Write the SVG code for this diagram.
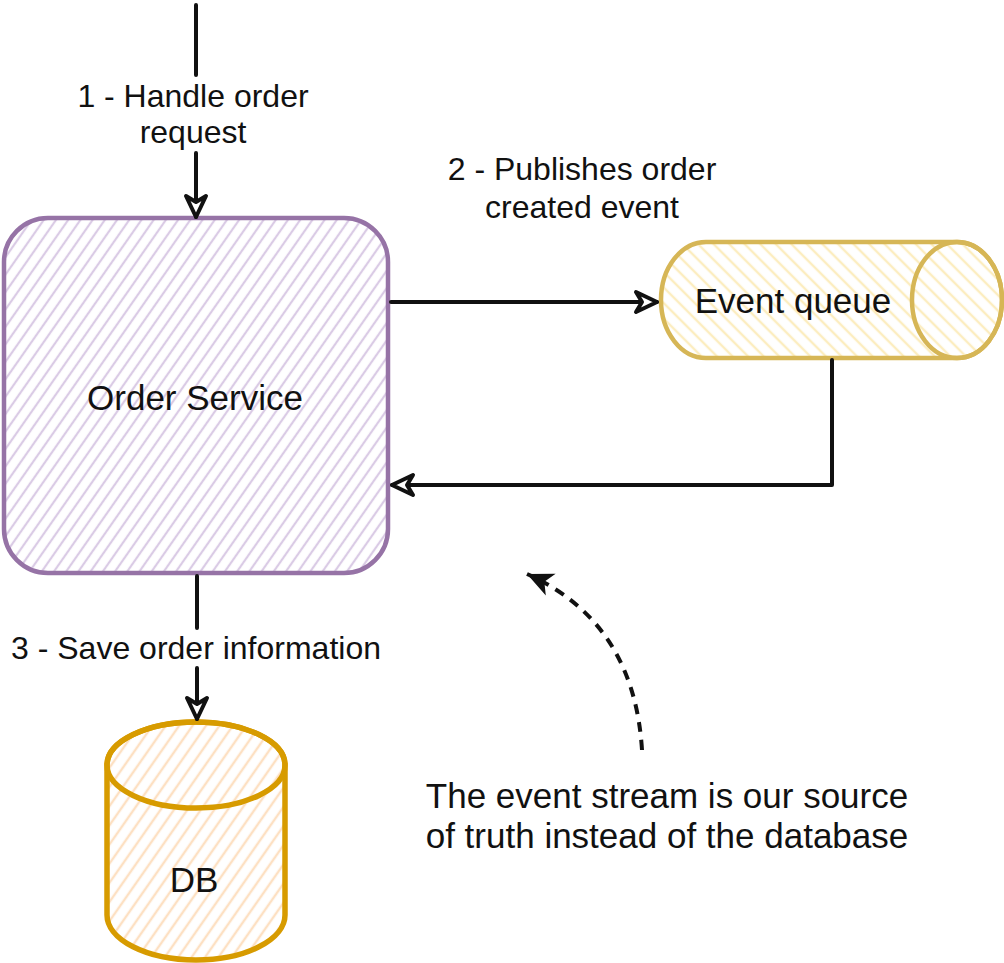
<svg xmlns="http://www.w3.org/2000/svg" width="1004" height="963" viewBox="0 0 1004 963">
<style>
.t{font-family:"Liberation Sans",Arial,sans-serif;fill:#111;text-anchor:middle}
.n{font-size:35px}
.e{font-size:32px}
.c{fill:none;stroke:#111;stroke-width:4;stroke-linecap:round;stroke-linejoin:round}
</style>
<defs>
<pattern id="hP" width="10" height="10" patternUnits="userSpaceOnUse" patternTransform="rotate(35)"><rect width="10" height="10" fill="#fff"/><line x1="2" y1="0" x2="2" y2="10" stroke="#dacbe5" stroke-width="2.2"/></pattern>
<pattern id="hY" width="11" height="11" patternUnits="userSpaceOnUse" patternTransform="rotate(-45)"><rect width="11" height="11" fill="#fff"/><line x1="2" y1="0" x2="2" y2="11" stroke="#fcedbf" stroke-width="2.4"/></pattern>
<pattern id="hO" width="11" height="11" patternUnits="userSpaceOnUse" patternTransform="rotate(35)"><rect width="11" height="11" fill="#fff"/><line x1="2" y1="0" x2="2" y2="11" stroke="#fde0c2" stroke-width="2.4"/></pattern>
<marker id="ao" viewBox="-26 -15 30 30" refX="0" refY="0" markerWidth="30" markerHeight="30" markerUnits="userSpaceOnUse" orient="auto">
<path d="M0,0 L-21,-10 L-15,0 L-21,10 Z" fill="#fff" stroke="#111" stroke-width="4" stroke-linejoin="round"/>
</marker>
<marker id="af" viewBox="-30 -16 34 32" refX="0" refY="0" markerWidth="34" markerHeight="32" markerUnits="userSpaceOnUse" orient="auto">
<path d="M0,0 L-26,-12 L-19,0 L-26,12 Z" fill="#111"/>
</marker>
</defs>
<g id="order-service">
<rect x="4" y="218" width="384" height="355" rx="44" ry="44" fill="url(#hP)" stroke="#9673a6" stroke-width="4.5"/>
<text class="t n" x="195" y="410">Order Service</text>
</g>
<g id="event-queue">
<path d="M706,242 L957,242 A45,58 0 0 1 957,358 L706,358 A45,58 0 0 1 706,242 Z" fill="url(#hY)" stroke="#d6b656" stroke-width="4.5"/>
<ellipse cx="957" cy="300" rx="45" ry="58" fill="none" stroke="#d6b656" stroke-width="4.5"/>
<text class="t n" x="793" y="313">Event queue</text>
</g>
<g id="db">
<path d="M107,765 L107,915 A89,45 0 0 0 285,915 L285,765 A89,43 0 0 0 107,765 Z" fill="url(#hO)" stroke="#d79b00" stroke-width="5.5"/>
<ellipse cx="196" cy="765" rx="89" ry="43" fill="none" stroke="#d79b00" stroke-width="5.5"/>
<text class="t n" x="194" y="892">DB</text>
</g>
<g id="annotation">
<text class="t n" x="667" y="808">The event stream is our source</text>
<text class="t n" x="667" y="848">of truth instead of the database</text>
</g>
<g id="connectors">
<path class="c" d="M196,5 L196,75 M196,153 L196,217" marker-end="url(#ao)"/>
<path class="c" d="M391,302 L657,302" marker-end="url(#ao)"/>
<path class="c" d="M832,360 L832,485 L392,485" marker-end="url(#ao)"/>
<path class="c" d="M197,576 L197,628 M197,668 L197,719" marker-end="url(#ao)"/>
<path d="M642,750 Q634,622 527,574" fill="none" stroke="#111" stroke-width="4" stroke-dasharray="10,8" marker-end="url(#af)"/>
<text class="t e" x="193" y="107">1 - Handle order</text>
<text class="t e" x="193" y="143">request</text>
<text class="t e" x="582" y="180">2 - Publishes order</text>
<text class="t e" x="582" y="218">created event</text>
<text class="t e" x="196" y="659">3 - Save order information</text>
</g>
</svg>
